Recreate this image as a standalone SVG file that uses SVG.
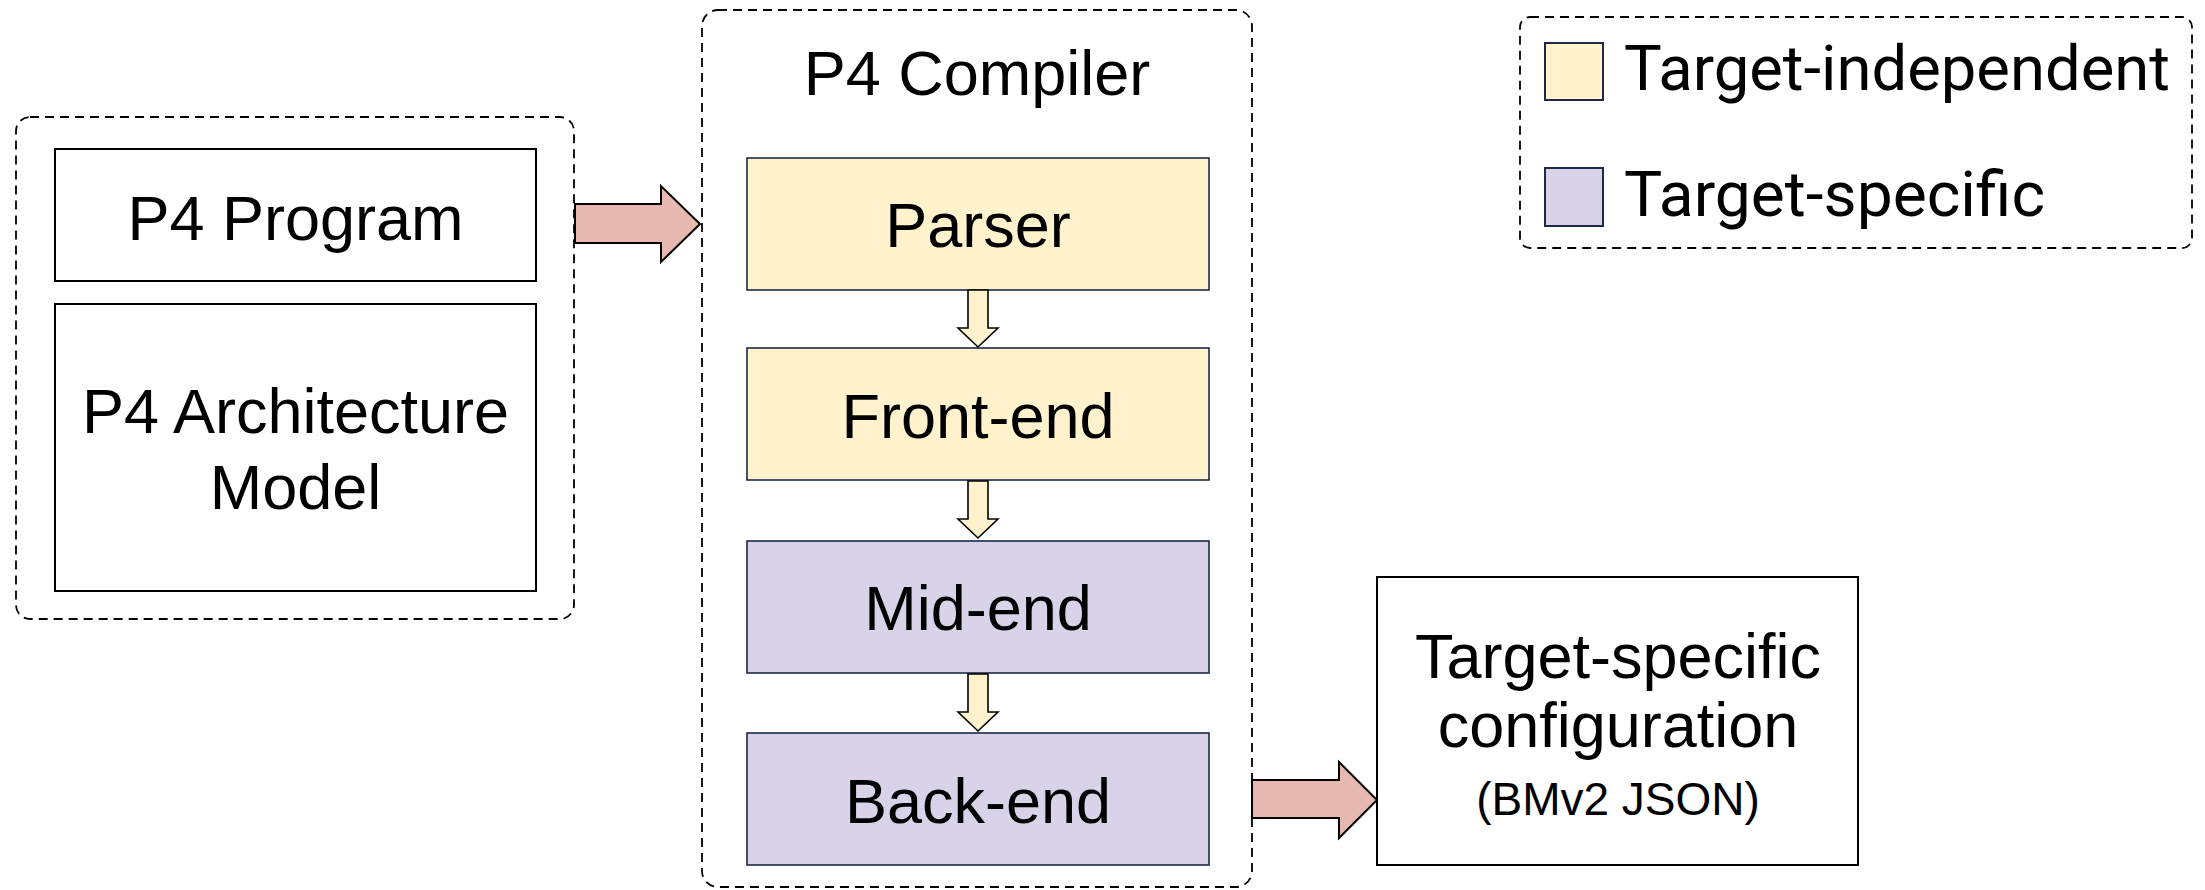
<svg xmlns="http://www.w3.org/2000/svg" width="2205" height="890" viewBox="0 0 2205 890">
  <style>
    .group { fill: none; stroke: #000; stroke-width: 1.8; stroke-dasharray: 9 6; }
    .plain { fill: #fff; stroke: #000; stroke-width: 2; }
    .indep { fill: #FFF2CC; stroke: #1c2a48; stroke-width: 1.6; }
    .spec { fill: #D9D2E9; stroke: #1c2a48; stroke-width: 1.6; }
    .label { font-family: "Liberation Sans", Arial, sans-serif; font-size: 63px; fill: #000; text-anchor: middle; }
    .small { font-family: "Liberation Sans", Arial, sans-serif; font-size: 46px; fill: #000; text-anchor: middle; }
    .legend { font-family: Roboto, "Liberation Sans", sans-serif; font-size: 63px; fill: #000; }
    .flow { fill: #E6B8AF; stroke: #000; stroke-width: 2; stroke-linejoin: miter; }
    .step { fill: #FFF2CC; stroke: #000; stroke-width: 1.6; stroke-linejoin: miter; }
  </style>

  <!-- Inputs: program + architecture model -->
  <g id="inputs">
    <rect class="group" x="16" y="117" width="558" height="502" rx="14"/>
  </g>
  <g id="p4-program">
    <rect class="plain" x="55" y="149" width="481" height="132"/>
    <text class="label" x="295.5" y="240">P4 Program</text>
  </g>
  <g id="p4-architecture">
    <rect class="plain" x="55" y="304" width="481" height="287"/>
    <text class="label" x="295.5" y="433">P4 Architecture</text>
    <text class="label" x="295.5" y="509">Model</text>
  </g>

  <!-- Compiler -->
  <g id="compiler">
    <rect class="group" x="702" y="10" width="550" height="877" rx="16"/>
    <text class="label" x="977" y="95">P4 Compiler</text>
  </g>
  <g id="parser">
    <rect class="indep" x="747" y="158" width="462" height="132"/>
    <text class="label" x="978" y="247">Parser</text>
  </g>
  <g id="front-end">
    <rect class="indep" x="747" y="348" width="462" height="132"/>
    <text class="label" x="978" y="438">Front-end</text>
  </g>
  <g id="mid-end">
    <rect class="spec" x="747" y="541" width="462" height="132"/>
    <text class="label" x="978" y="630">Mid-end</text>
  </g>
  <g id="back-end">
    <rect class="spec" x="747" y="733" width="462" height="132"/>
    <text class="label" x="978" y="823">Back-end</text>
  </g>

  <!-- Output -->
  <g id="target-config">
    <rect class="plain" x="1377" y="577" width="481" height="288"/>
    <text class="label" x="1618" y="678">Target-specific</text>
    <text class="label" x="1618" y="747">configuration</text>
    <text class="small" x="1618" y="815">(BMv2 JSON)</text>
  </g>

  <!-- Legend -->
  <g id="legend">
    <rect class="group" x="1520" y="17" width="672" height="231" rx="10"/>
    <rect class="indep" x="1545" y="43" width="58" height="57" style="stroke-width:2"/>
    <text class="legend" x="1624" y="90" textLength="546" lengthAdjust="spacingAndGlyphs">Target-independent</text>
    <rect class="spec" x="1545" y="168" width="58" height="58" style="stroke-width:2"/>
    <text class="legend" x="1624" y="216" textLength="421" lengthAdjust="spacingAndGlyphs">Target-specific</text>
  </g>

  <!-- Connectors -->
  <g id="connectors">
    <polygon class="flow" points="575,204 661,204 661,186 700,224 661,262 661,243 575,243"/>
    <polygon class="flow" points="1252,780 1339,780 1339,762 1377,800 1339,838 1339,818 1252,818"/>
    <polygon class="step" points="968,290 988,290 988,328 998,328 978,347 958,328 968,328"/>
    <polygon class="step" points="968,481 988,481 988,519 998,519 978,538 958,519 968,519"/>
    <polygon class="step" points="968,674 988,674 988,712 998,712 978,731 958,712 968,712"/>
  </g>
</svg>
